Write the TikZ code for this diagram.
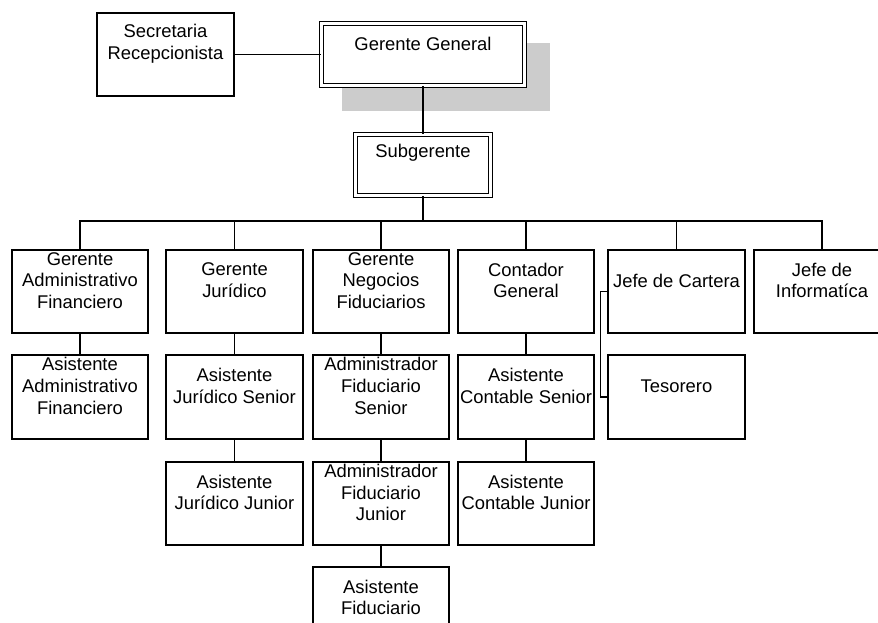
\documentclass[tikz,border=0pt]{standalone}
\usepackage{fontspec}
\setmainfont{Liberation Sans}
\definecolor{shadowgray}{RGB}{204,204,204}
% plain box with its caption set a little above the centre
\newcommand\orgnode[4]{%
  \node[box] (#1) at (#2,#3) {};
  \node[lbl] (#1t) at ([yshift=11pt]#1.center) {#4};}
\begin{document}
\begin{tikzpicture}[x=1pt,y=-1pt,
  box/.style={draw, line width=1.8pt, fill=white, minimum width=136.5pt,
              minimum height=83.5pt, inner sep=0pt},
  dbox/.style={draw, fill=white, double, double distance=2.2pt,
               line width=1.5pt, inner sep=0pt},
  lbl/.style={align=center, font=\fontsize{18.4}{21.7}\selectfont, inner sep=0pt},
  link/.style={line width=1.8pt}]
\useasboundingbox (0,0) rectangle (878,623);
\clip (0,0) rectangle (878,623);

% shadow behind the general manager
\fill[shadowgray] (342,43) rectangle (550,111);

% top of the chart
\node[dbox, minimum width=203pt, minimum height=62pt] (gg) at (423,54.5) {};
\node[lbl] (ggt) at ([yshift=11pt]gg.center) {Gerente General};
\node[dbox, minimum width=135pt, minimum height=61pt] (sub) at (423,165) {};
\node[lbl] (subt) at ([yshift=12pt]sub.center) {Subgerente};
\orgnode{sec}{165.5}{54.5}{Secretaria\\Recepcionista}

\draw[link] (sec.east) -- (gg.west);
\draw[link] (gg.south) -- (sub.north);

% first level
\orgnode{ga}{80}{291.5}{Gerente\\Administrativo\\Financiero}
\orgnode{gj}{234.5}{291.5}{Gerente\\Jurídico}
\orgnode{gn}{381}{291.5}{Gerente\\Negocios\\Fiduciarios}
\orgnode{cg}{526}{291.5}{Contador\\General}
\orgnode{jc}{676.5}{291.5}{Jefe de Cartera}
\orgnode{ji}{822}{291.5}{Jefe de\\Informatíca}

% second level
\orgnode{aaf}{80}{397}{Asistente\\Administrativo\\Financiero}
\orgnode{ajs}{234.5}{397}{Asistente\\Jurídico Senior}
\orgnode{afs}{381}{397}{Administrador\\Fiduciario\\Senior}
\orgnode{acs}{526}{397}{Asistente\\Contable Senior}
\orgnode{tes}{676.5}{397}{Tesorero}

% third level
\orgnode{ajj}{234.5}{503.5}{Asistente\\Jurídico Junior}
\orgnode{afj}{381}{503.5}{Administrador\\Fiduciario\\Junior}
\orgnode{acj}{526}{503.5}{Asistente\\Contable Junior}

% fourth level
\orgnode{af}{381}{608.5}{Asistente\\Fiduciario}

% bus under the deputy manager
\coordinate (bus) at (423,221);
\draw[line width=2.5pt] (sub.south) -- (bus);
\foreach \n in {ga,gj,gn,cg,jc,ji}
  \draw[link] (\n.north) |- (bus);

% vertical reporting lines
\draw[link] (ga.south) -- (aaf.north);
\draw[link] (gj.south) -- (ajs.north);
\draw[link] (ajs.south) -- (ajj.north);
\draw[link] (gn.south) -- (afs.north);
\draw[link] (afs.south) -- (afj.north);
\draw[link] (afj.south) -- (af.north);
\draw[link] (cg.south) -- (acs.north);
\draw[link] (acs.south) -- (acj.north);

% bracket between cartera and tesorero
\draw[line width=1.4pt] (jc.west) -- ++(-7,0) |- (tes.west);
\end{tikzpicture}
\end{document}
